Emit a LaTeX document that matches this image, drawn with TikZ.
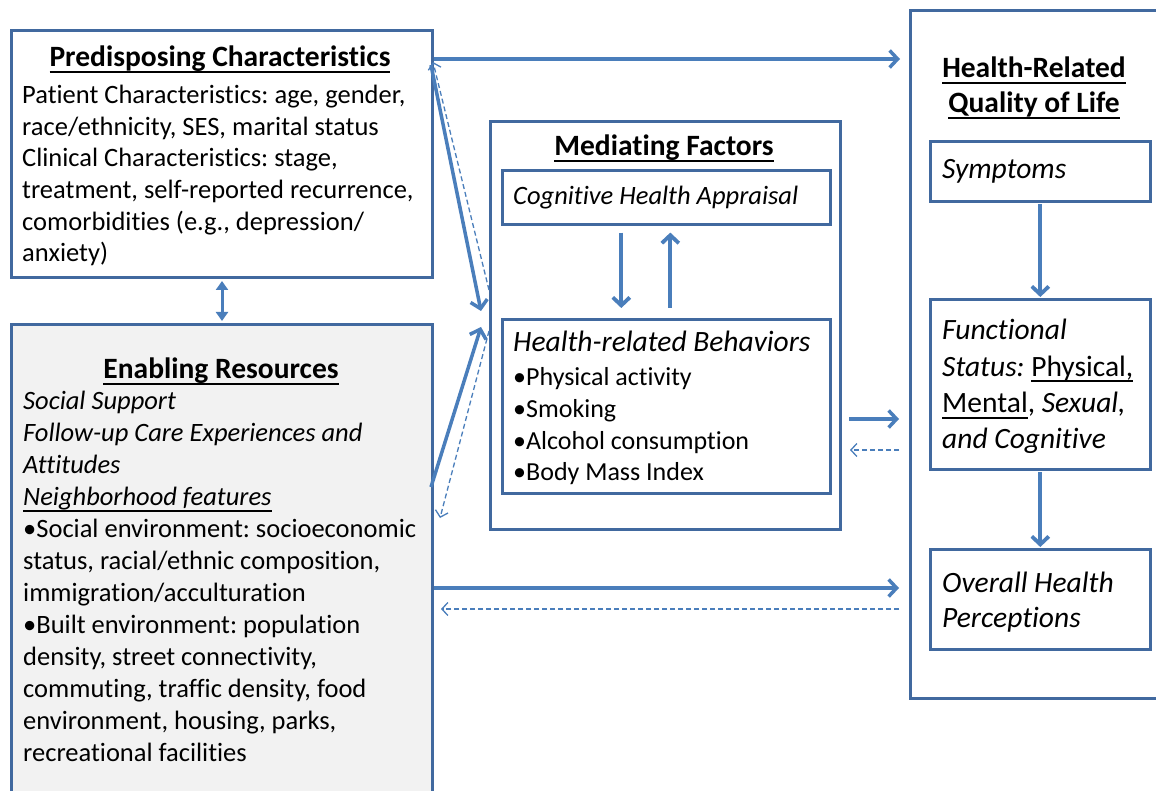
\documentclass[tikz,border=0pt]{standalone}
\usepackage{fontspec}
\setmainfont{Carlito}[Ligatures=NoCommon]
\usetikzlibrary{arrows.meta,calc}
\definecolor{boxc}{HTML}{41699F}
\definecolor{arrc}{HTML}{4A7EBB}
\definecolor{fillc}{HTML}{F2F2F2}
\newcommand{\myul}[1]{\leavevmode\vtop{\setbox0\hbox{#1}\dp0=0pt\box0\kern4.5pt\hrule height 2pt}}
\frenchspacing
\begin{document}
\begin{tikzpicture}[x=1pt,y=-1pt,
  box/.style={draw=boxc, line width=3pt, anchor=north west, inner sep=0},
  ibox/.style={draw=boxc, line width=2.6pt, anchor=north west, inner sep=0},
  bodyA/.style={anchor=base west, inner sep=0, font=\fontsize{26.5}{32}\selectfont},
  bodyB/.style={anchor=base west, inner sep=0, font=\fontsize{29.5}{34}\selectfont},
  ttl/.style={anchor=base, inner sep=0, font=\fontsize{29.5}{34}\selectfont\bfseries},
  solidarr/.style={draw=arrc, line width=3.5pt, -{Straight Barb[length=8pt,width=17pt]}},
  dasharr/.style={draw=arrc, line width=1.3pt, dash pattern=on 5pt off 3pt, -{Straight Barb[length=6pt,width=13pt]}},
  varr/.style={draw=arrc, line width=3.8pt, -{Straight Barb[length=8pt,width=17pt]}},
  dblarr/.style={draw=arrc, line width=3pt, {Triangle[length=9pt,width=12pt]}-{Triangle[length=9pt,width=12pt]}}
]
\useasboundingbox (0,0) rectangle (1156,791);
\clip (0,0) rectangle (1156,791);
\fill[white] (0,0) rectangle (1156,791);

% boxes
\node[box, minimum width=421pt, minimum height=247pt] (pred) at (10,29) {};
\node[box, fill=fillc, minimum width=421pt, minimum height=490pt] (enab) at (10,323) {};
\node[box, minimum width=350pt, minimum height=408pt] (med) at (489,120) {};
\node[ibox, minimum width=328pt, minimum height=54pt] (cog) at (501,169) {};
\node[ibox, minimum width=328pt, minimum height=174pt] (beh) at (501,318) {};
\node[box, minimum width=280pt, minimum height=688pt] (hrq) at (909,9) {};
\node[ibox, minimum width=220pt, minimum height=60pt] (sym) at (929,140) {};
\node[ibox, minimum width=220pt, minimum height=170pt] (func) at (929,298) {};
\node[ibox, minimum width=220pt, minimum height=100pt] (ovr) at (929,548) {};

% titles
\node[ttl] (tpred) at (220,67) {\myul{Predisposing Characteristics}};
\node[ttl] (tenab) at (221,378) {\myul{Enabling Resources}};
\node[ttl] (tmed) at (664,156) {\myul{Mediating Factors}};
\node[ttl] (thrq1) at (1034,78) {\myul{Health-Related}};
\node[ttl] (thrq2) at (1034,113) {\myul{Quality of Life}};

% predisposing text
\foreach \y/\t [count=\i] in {
  104/{Patient Characteristics: age, gender,},
  136/{race/ethnicity, SES, marital status},
  167/{Clinical Characteristics: stage,},
  199/{treatment, self-reported recurrence,},
  231/{comorbidities (e.g., depression/},
  262/{anxiety)}}
  \node[bodyA] (p\i) at (22,\y) {\t};

% enabling text
\foreach \y/\t [count=\i] in {
  409/{\itshape Social Support},
  441/{\itshape Follow-up Care Experiences and},
  473/{\itshape Attitudes},
  505/{\itshape\myul{Neighborhood features}},
  537/{•Social environment: socioeconomic},
  569/{status, racial/ethnic composition,},
  601/{immigration/acculturation},
  633/{•Built environment: population},
  665/{density, street connectivity,},
  697/{commuting, traffic density, food},
  729/{environment, housing, parks,},
  761/{recreational facilities}}
  \node[bodyA] (e\i) at (23,\y) {\t};

% mediating text
\node[bodyA, font=\fontsize{26.5}{32}\selectfont\itshape] (tcog) at (513,205) {Cognitive Health Appraisal};
\node[bodyB, font=\fontsize{29.5}{34}\selectfont\itshape] (tbeh) at (513,352) {Health-related Behaviors};
\foreach \y/\t [count=\i] in {
  385/{•Physical activity},
  417/{•Smoking},
  449/{•Alcohol consumption},
  480/{•Body Mass Index}}
  \node[bodyA, font=\fontsize{26}{31}\selectfont] (b\i) at (513,\y) {\t};

% HRQoL text
\node[bodyB] (tsym) at (942,179) {\itshape Symptoms};
\node[bodyB] (f1) at (942,340) {\itshape Functional};
\node[bodyB] (f2) at (942,376) {\itshape Status: \upshape\myul{Physical,}};
\node[bodyB] (f3) at (942,412) {\myul{Mental}, \itshape Sexual,};
\node[bodyB] (f4) at (942,448) {\itshape and Cognitive};
\node[bodyB] (o1) at (942,592) {\itshape Overall Health};
\node[bodyB] (o2) at (942,627) {\itshape Perceptions};

% coordinates for free ends
\coordinate (a1) at (900,59);
\coordinate (a2) at (481,311);
\coordinate (a2s) at (431,65);
\coordinate (d1s) at (489,290);
\coordinate (d1e) at (433,62);
\coordinate (a3s) at (431,487);
\coordinate (a3) at (481,327);
\coordinate (d2s) at (489,331);
\coordinate (d2e) at (440,518);
\coordinate (m1s) at (849,419);
\coordinate (m1e) at (899,419);
\coordinate (m2s) at (899,450);
\coordinate (m2e) at (850,450);
\coordinate (e1e) at (899,588);
\coordinate (e2s) at (899,609);
\coordinate (e2e) at (441,609);

% connectors
\draw[solidarr] (pred.east |- a1) -- (a1);
\draw[solidarr] (a2s) -- (a2);
\draw[dasharr] (d1s) -- (d1e);
\draw[solidarr] (a3s) -- (a3);
\draw[dasharr] (d2s) -- (d2e);
\draw[dblarr] ($(pred.south)+(0,2)$) -- ($(enab.north)+(0,-2)$);
\draw[varr] ($(cog.south)+(-45,7)$) -- ($(beh.north)+(-45,-10)$);
\draw[varr] ($(beh.north)+(4,-10)$) -- ($(cog.south)+(4,7)$);
\draw[solidarr] (m1s) -- (m1e);
\draw[dasharr] (m2s) -- (m2e);
\draw[varr] ($(sym.south)+(0,1.5)$) -- ($(func.north)+(0,-1)$);
\draw[varr] ($(func.south)+(0,1.5)$) -- ($(ovr.north)+(0,-1)$);
\draw[solidarr] (enab.east |- e1e) -- (e1e);
\draw[dasharr] (e2s) -- (e2e);
\end{tikzpicture}
\end{document}
